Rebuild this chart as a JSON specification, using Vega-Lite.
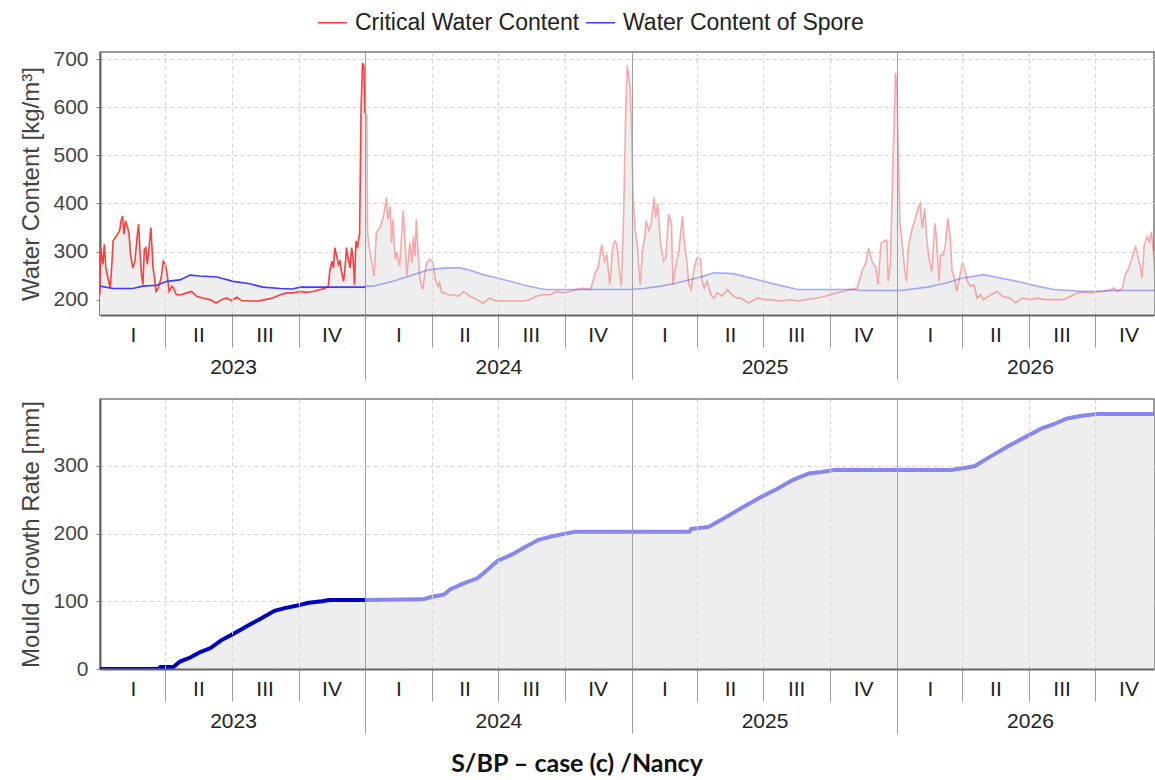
{
  "$schema": "https://vega.github.io/schema/vega-lite/v6.json",
  "background": "white",
  "padding": {"left": 19, "top": 7, "right": 0, "bottom": 2},
  "spacing": 17,
  "title": {"text": "S/BP – case (c) /Nancy", "orient": "bottom", "anchor": "middle", "font": "Lato", "fontSize": 25, "fontWeight": "bold", "color": "#111", "offset": 18, "dx": -10},
  "config": {
    "font": "Liberation Sans",
    "view": {"stroke": "#7a7a7a", "strokeWidth": 1.5},
    "axis": {"labelFont": "Liberation Sans", "titleFont": "Liberation Sans"},
    "axisY": {"tickSize": 4, "tickColor": "#888", "labelPadding": 8, "labelFontSize": 21, "labelColor": "#444", "titleFontSize": 24, "titleColor": "#444", "titleFontWeight": "normal", "titlePadding": 9, "grid": true, "gridDash": [4, 3], "gridColor": "#d6d6d6", "domainColor": "#666", "domainWidth": 2, "zindex": 1}
  },
  "vconcat": [
    {
      "width": 1054,
      "height": 263,
      "resolve": {"axis": {"x": "independent"}},
      "data": {
        "format": {"parse": {"d": "utc:'%Y-%j'"}},
        "values": [
          {"d":"2023-001","s":"crit","v":210},{"d":"2023-002","s":"crit","v":308},{"d":"2023-005","s":"crit","v":273},{"d":"2023-007","s":"crit","v":315},{"d":"2023-009","s":"crit","v":266},{"d":"2023-012","s":"crit","v":245},{"d":"2023-015","s":"crit","v":224},{"d":"2023-017","s":"crit","v":266},{"d":"2023-019","s":"crit","v":322},{"d":"2023-022","s":"crit","v":329},{"d":"2023-025","s":"crit","v":336},{"d":"2023-028","s":"crit","v":343},{"d":"2023-030","s":"crit","v":364},{"d":"2023-032","s":"crit","v":374},{"d":"2023-034","s":"crit","v":336},{"d":"2023-036","s":"crit","v":364},{"d":"2023-039","s":"crit","v":350},{"d":"2023-041","s":"crit","v":336},{"d":"2023-043","s":"crit","v":294},{"d":"2023-046","s":"crit","v":266},{"d":"2023-049","s":"crit","v":280},{"d":"2023-052","s":"crit","v":329},{"d":"2023-054","s":"crit","v":357},{"d":"2023-056","s":"crit","v":301},{"d":"2023-058","s":"crit","v":252},{"d":"2023-060","s":"crit","v":231},{"d":"2023-062","s":"crit","v":305},{"d":"2023-064","s":"crit","v":308},{"d":"2023-066","s":"crit","v":273},{"d":"2023-068","s":"crit","v":301},{"d":"2023-071","s":"crit","v":350},{"d":"2023-073","s":"crit","v":294},{"d":"2023-074","s":"crit","v":266},{"d":"2023-076","s":"crit","v":245},{"d":"2023-078","s":"crit","v":217},{"d":"2023-081","s":"crit","v":224},{"d":"2023-085","s":"crit","v":245},{"d":"2023-088","s":"crit","v":280},{"d":"2023-091","s":"crit","v":273},{"d":"2023-094","s":"crit","v":245},{"d":"2023-096","s":"crit","v":217},{"d":"2023-100","s":"crit","v":228},{"d":"2023-102","s":"crit","v":224},{"d":"2023-106","s":"crit","v":210},{"d":"2023-113","s":"crit","v":210},{"d":"2023-120","s":"crit","v":214},{"d":"2023-127","s":"crit","v":217},{"d":"2023-134","s":"crit","v":207},{"d":"2023-143","s":"crit","v":203},{"d":"2023-152","s":"crit","v":200},{"d":"2023-161","s":"crit","v":193},{"d":"2023-168","s":"crit","v":200},{"d":"2023-175","s":"crit","v":203},{"d":"2023-182","s":"crit","v":198},{"d":"2023-189","s":"crit","v":205},{"d":"2023-196","s":"crit","v":198},{"d":"2023-207","s":"crit","v":197},{"d":"2023-219","s":"crit","v":197},{"d":"2023-228","s":"crit","v":200},{"d":"2023-237","s":"crit","v":203},{"d":"2023-249","s":"crit","v":210},{"d":"2023-258","s":"crit","v":214},{"d":"2023-267","s":"crit","v":214},{"d":"2023-276","s":"crit","v":217},{"d":"2023-285","s":"crit","v":215},{"d":"2023-294","s":"crit","v":217},{"d":"2023-304","s":"crit","v":221},{"d":"2023-310","s":"crit","v":223},{"d":"2023-315","s":"crit","v":228},{"d":"2023-317","s":"crit","v":259},{"d":"2023-320","s":"crit","v":280},{"d":"2023-322","s":"crit","v":266},{"d":"2023-324","s":"crit","v":308},{"d":"2023-326","s":"crit","v":294},{"d":"2023-329","s":"crit","v":273},{"d":"2023-331","s":"crit","v":280},{"d":"2023-333","s":"crit","v":259},{"d":"2023-336","s":"crit","v":238},{"d":"2023-338","s":"crit","v":266},{"d":"2023-340","s":"crit","v":308},{"d":"2023-342","s":"crit","v":287},{"d":"2023-345","s":"crit","v":266},{"d":"2023-347","s":"crit","v":308},{"d":"2023-349","s":"crit","v":287},{"d":"2023-351","s":"crit","v":231},{"d":"2023-353","s":"crit","v":322},{"d":"2023-355","s":"crit","v":308},{"d":"2023-357","s":"crit","v":329},{"d":"2023-358","s":"crit","v":336},{"d":"2023-360","s":"crit","v":590},{"d":"2023-362","s":"crit","v":692},{"d":"2023-364","s":"crit","v":685},{"d":"2023-365","s":"crit","v":590},
          {"d":"2024-001","s":"crit","v":587},{"d":"2024-003","s":"crit","v":583},{"d":"2024-004","s":"crit","v":340},{"d":"2024-006","s":"crit","v":312},{"d":"2024-010","s":"crit","v":277},{"d":"2024-013","s":"crit","v":249},{"d":"2024-016","s":"crit","v":340},{"d":"2024-021","s":"crit","v":350},{"d":"2024-026","s":"crit","v":375},{"d":"2024-030","s":"crit","v":412},{"d":"2024-032","s":"crit","v":367},{"d":"2024-035","s":"crit","v":395},{"d":"2024-037","s":"crit","v":318},{"d":"2024-039","s":"crit","v":367},{"d":"2024-042","s":"crit","v":284},{"d":"2024-044","s":"crit","v":298},{"d":"2024-048","s":"crit","v":270},{"d":"2024-053","s":"crit","v":385},{"d":"2024-055","s":"crit","v":340},{"d":"2024-058","s":"crit","v":249},{"d":"2024-062","s":"crit","v":318},{"d":"2024-065","s":"crit","v":277},{"d":"2024-067","s":"crit","v":332},{"d":"2024-069","s":"crit","v":291},{"d":"2024-071","s":"crit","v":367},{"d":"2024-074","s":"crit","v":284},{"d":"2024-076","s":"crit","v":242},{"d":"2024-080","s":"crit","v":221},{"d":"2024-085","s":"crit","v":277},{"d":"2024-090","s":"crit","v":284},{"d":"2024-094","s":"crit","v":277},{"d":"2024-097","s":"crit","v":242},{"d":"2024-101","s":"crit","v":228},{"d":"2024-103","s":"crit","v":235},{"d":"2024-106","s":"crit","v":214},{"d":"2024-110","s":"crit","v":214},{"d":"2024-115","s":"crit","v":210},{"d":"2024-122","s":"crit","v":210},{"d":"2024-129","s":"crit","v":207},{"d":"2024-136","s":"crit","v":217},{"d":"2024-145","s":"crit","v":207},{"d":"2024-154","s":"crit","v":200},{"d":"2024-163","s":"crit","v":193},{"d":"2024-172","s":"crit","v":203},{"d":"2024-181","s":"crit","v":197},{"d":"2024-191","s":"crit","v":197},{"d":"2024-204","s":"crit","v":197},{"d":"2024-218","s":"crit","v":197},{"d":"2024-227","s":"crit","v":200},{"d":"2024-236","s":"crit","v":207},{"d":"2024-245","s":"crit","v":210},{"d":"2024-255","s":"crit","v":210},{"d":"2024-264","s":"crit","v":217},{"d":"2024-273","s":"crit","v":214},{"d":"2024-282","s":"crit","v":217},{"d":"2024-291","s":"crit","v":221},{"d":"2024-301","s":"crit","v":224},{"d":"2024-310","s":"crit","v":221},{"d":"2024-312","s":"crit","v":228},{"d":"2024-317","s":"crit","v":256},{"d":"2024-321","s":"crit","v":266},{"d":"2024-326","s":"crit","v":315},{"d":"2024-328","s":"crit","v":294},{"d":"2024-330","s":"crit","v":280},{"d":"2024-333","s":"crit","v":294},{"d":"2024-337","s":"crit","v":231},{"d":"2024-341","s":"crit","v":308},{"d":"2024-344","s":"crit","v":322},{"d":"2024-347","s":"crit","v":315},{"d":"2024-350","s":"crit","v":266},{"d":"2024-353","s":"crit","v":228},{"d":"2024-356","s":"crit","v":371},{"d":"2024-359","s":"crit","v":594},{"d":"2024-361","s":"crit","v":688},{"d":"2024-365","s":"crit","v":643},
          {"d":"2025-001","s":"crit","v":560},{"d":"2025-003","s":"crit","v":420},{"d":"2025-006","s":"crit","v":343},{"d":"2025-009","s":"crit","v":315},{"d":"2025-011","s":"crit","v":266},{"d":"2025-013","s":"crit","v":231},{"d":"2025-016","s":"crit","v":301},{"d":"2025-019","s":"crit","v":329},{"d":"2025-021","s":"crit","v":364},{"d":"2025-025","s":"crit","v":343},{"d":"2025-028","s":"crit","v":357},{"d":"2025-032","s":"crit","v":413},{"d":"2025-034","s":"crit","v":371},{"d":"2025-037","s":"crit","v":399},{"d":"2025-041","s":"crit","v":315},{"d":"2025-045","s":"crit","v":280},{"d":"2025-048","s":"crit","v":287},{"d":"2025-052","s":"crit","v":378},{"d":"2025-056","s":"crit","v":357},{"d":"2025-058","s":"crit","v":231},{"d":"2025-062","s":"crit","v":273},{"d":"2025-066","s":"crit","v":301},{"d":"2025-071","s":"crit","v":374},{"d":"2025-073","s":"crit","v":329},{"d":"2025-077","s":"crit","v":280},{"d":"2025-080","s":"crit","v":231},{"d":"2025-083","s":"crit","v":221},{"d":"2025-087","s":"crit","v":266},{"d":"2025-091","s":"crit","v":287},{"d":"2025-096","s":"crit","v":284},{"d":"2025-098","s":"crit","v":238},{"d":"2025-101","s":"crit","v":224},{"d":"2025-105","s":"crit","v":238},{"d":"2025-110","s":"crit","v":210},{"d":"2025-114","s":"crit","v":203},{"d":"2025-119","s":"crit","v":214},{"d":"2025-126","s":"crit","v":207},{"d":"2025-133","s":"crit","v":221},{"d":"2025-139","s":"crit","v":210},{"d":"2025-146","s":"crit","v":203},{"d":"2025-151","s":"crit","v":203},{"d":"2025-162","s":"crit","v":193},{"d":"2025-174","s":"crit","v":203},{"d":"2025-183","s":"crit","v":200},{"d":"2025-192","s":"crit","v":200},{"d":"2025-206","s":"crit","v":197},{"d":"2025-220","s":"crit","v":200},{"d":"2025-229","s":"crit","v":197},{"d":"2025-240","s":"crit","v":200},{"d":"2025-254","s":"crit","v":203},{"d":"2025-268","s":"crit","v":207},{"d":"2025-282","s":"crit","v":214},{"d":"2025-293","s":"crit","v":217},{"d":"2025-302","s":"crit","v":221},{"d":"2025-311","s":"crit","v":224},{"d":"2025-318","s":"crit","v":259},{"d":"2025-323","s":"crit","v":276},{"d":"2025-327","s":"crit","v":307},{"d":"2025-332","s":"crit","v":279},{"d":"2025-337","s":"crit","v":266},{"d":"2025-340","s":"crit","v":231},{"d":"2025-344","s":"crit","v":317},{"d":"2025-348","s":"crit","v":321},{"d":"2025-352","s":"crit","v":324},{"d":"2025-354","s":"crit","v":238},{"d":"2025-357","s":"crit","v":279},{"d":"2025-360","s":"crit","v":459},{"d":"2025-362","s":"crit","v":562},{"d":"2025-364","s":"crit","v":672},
          {"d":"2026-001","s":"crit","v":640},{"d":"2026-005","s":"crit","v":362},{"d":"2026-008","s":"crit","v":321},{"d":"2026-012","s":"crit","v":259},{"d":"2026-014","s":"crit","v":238},{"d":"2026-017","s":"crit","v":314},{"d":"2026-022","s":"crit","v":348},{"d":"2026-026","s":"crit","v":369},{"d":"2026-030","s":"crit","v":390},{"d":"2026-033","s":"crit","v":400},{"d":"2026-036","s":"crit","v":348},{"d":"2026-039","s":"crit","v":390},{"d":"2026-042","s":"crit","v":328},{"d":"2026-045","s":"crit","v":286},{"d":"2026-049","s":"crit","v":259},{"d":"2026-053","s":"crit","v":359},{"d":"2026-055","s":"crit","v":334},{"d":"2026-059","s":"crit","v":238},{"d":"2026-061","s":"crit","v":293},{"d":"2026-065","s":"crit","v":293},{"d":"2026-068","s":"crit","v":321},{"d":"2026-071","s":"crit","v":369},{"d":"2026-074","s":"crit","v":334},{"d":"2026-077","s":"crit","v":259},{"d":"2026-080","s":"crit","v":245},{"d":"2026-083","s":"crit","v":217},{"d":"2026-086","s":"crit","v":238},{"d":"2026-091","s":"crit","v":279},{"d":"2026-095","s":"crit","v":259},{"d":"2026-098","s":"crit","v":238},{"d":"2026-102","s":"crit","v":228},{"d":"2026-107","s":"crit","v":231},{"d":"2026-111","s":"crit","v":203},{"d":"2026-116","s":"crit","v":210},{"d":"2026-120","s":"crit","v":200},{"d":"2026-130","s":"crit","v":210},{"d":"2026-139","s":"crit","v":217},{"d":"2026-146","s":"crit","v":207},{"d":"2026-157","s":"crit","v":203},{"d":"2026-164","s":"crit","v":193},{"d":"2026-173","s":"crit","v":203},{"d":"2026-185","s":"crit","v":200},{"d":"2026-194","s":"crit","v":203},{"d":"2026-203","s":"crit","v":200},{"d":"2026-217","s":"crit","v":200},{"d":"2026-230","s":"crit","v":200},{"d":"2026-240","s":"crit","v":207},{"d":"2026-249","s":"crit","v":214},{"d":"2026-258","s":"crit","v":216},{"d":"2026-267","s":"crit","v":214},{"d":"2026-276","s":"crit","v":216},{"d":"2026-285","s":"crit","v":217},{"d":"2026-295","s":"crit","v":221},{"d":"2026-299","s":"crit","v":224},{"d":"2026-304","s":"crit","v":217},{"d":"2026-311","s":"crit","v":224},{"d":"2026-315","s":"crit","v":252},{"d":"2026-320","s":"crit","v":266},{"d":"2026-324","s":"crit","v":286},{"d":"2026-329","s":"crit","v":310},{"d":"2026-332","s":"crit","v":293},{"d":"2026-336","s":"crit","v":266},{"d":"2026-338","s":"crit","v":245},{"d":"2026-341","s":"crit","v":314},{"d":"2026-345","s":"crit","v":331},{"d":"2026-348","s":"crit","v":321},{"d":"2026-351","s":"crit","v":341},{"d":"2026-354","s":"crit","v":293},{"d":"2026-356","s":"crit","v":238},
          {"d":"2023-001","s":"spore","v":228},{"d":"2023-019","s":"spore","v":223},{"d":"2023-046","s":"spore","v":223},{"d":"2023-060","s":"spore","v":228},{"d":"2023-079","s":"spore","v":230},{"d":"2023-093","s":"spore","v":238},{"d":"2023-111","s":"spore","v":241},{"d":"2023-125","s":"spore","v":251},{"d":"2023-138","s":"spore","v":249},{"d":"2023-162","s":"spore","v":247},{"d":"2023-184","s":"spore","v":238},{"d":"2023-207","s":"spore","v":233},{"d":"2023-225","s":"spore","v":226},{"d":"2023-249","s":"spore","v":223},{"d":"2023-266","s":"spore","v":222},{"d":"2023-276","s":"spore","v":226},{"d":"2023-365","s":"spore","v":226},
          {"d":"2024-001","s":"spore","v":228},{"d":"2024-012","s":"spore","v":228},{"d":"2024-039","s":"spore","v":238},{"d":"2024-062","s":"spore","v":249},{"d":"2024-085","s":"spore","v":261},{"d":"2024-099","s":"spore","v":264},{"d":"2024-113","s":"spore","v":266},{"d":"2024-131","s":"spore","v":266},{"d":"2024-145","s":"spore","v":261},{"d":"2024-163","s":"spore","v":252},{"d":"2024-177","s":"spore","v":247},{"d":"2024-200","s":"spore","v":238},{"d":"2024-223","s":"spore","v":229},{"d":"2024-241","s":"spore","v":223},{"d":"2024-250","s":"spore","v":221},{"d":"2024-366","s":"spore","v":221},
          {"d":"2025-001","s":"spore","v":221},{"d":"2025-018","s":"spore","v":223},{"d":"2025-041","s":"spore","v":228},{"d":"2025-059","s":"spore","v":233},{"d":"2025-082","s":"spore","v":242},{"d":"2025-096","s":"spore","v":247},{"d":"2025-114","s":"spore","v":256},{"d":"2025-141","s":"spore","v":254},{"d":"2025-165","s":"spore","v":245},{"d":"2025-188","s":"spore","v":236},{"d":"2025-210","s":"spore","v":228},{"d":"2025-229","s":"spore","v":221},{"d":"2025-302","s":"spore","v":221},{"d":"2025-320","s":"spore","v":219},{"d":"2025-365","s":"spore","v":219},
          {"d":"2026-001","s":"spore","v":219},{"d":"2026-006","s":"spore","v":219},{"d":"2026-043","s":"spore","v":226},{"d":"2026-070","s":"spore","v":235},{"d":"2026-088","s":"spore","v":244},{"d":"2026-120","s":"spore","v":252},{"d":"2026-143","s":"spore","v":245},{"d":"2026-166","s":"spore","v":238},{"d":"2026-194","s":"spore","v":228},{"d":"2026-217","s":"spore","v":221},{"d":"2026-240","s":"spore","v":219},{"d":"2026-258","s":"spore","v":217},{"d":"2026-304","s":"spore","v":219},{"d":"2026-356","s":"spore","v":219}
        ]
      },
      "layer": [
        {
          "mark": {"type": "area", "color": "#eeeeee", "clip": true},
          "encoding": {
            "x": {"field": "d", "type": "temporal",
              "scale": {"type": "utc", "domain": [{"year": 2023, "month": 1, "date": 1, "utc": true}, {"year": 2026, "month": 12, "date": 20, "hours": 12, "utc": true}]},
              "axis": {
                "orient": "bottom", "title": null, "zindex": 1,
                "values": [{"year":2023,"month":1,"date":1,"utc":true},{"year":2023,"month":4,"date":1,"utc":true},{"year":2023,"month":7,"date":1,"utc":true},{"year":2023,"month":10,"date":1,"utc":true},{"year":2024,"month":1,"date":1,"utc":true},{"year":2024,"month":4,"date":1,"utc":true},{"year":2024,"month":7,"date":1,"utc":true},{"year":2024,"month":10,"date":1,"utc":true},{"year":2025,"month":1,"date":1,"utc":true},{"year":2025,"month":4,"date":1,"utc":true},{"year":2025,"month":7,"date":1,"utc":true},{"year":2025,"month":10,"date":1,"utc":true},{"year":2026,"month":1,"date":1,"utc":true},{"year":2026,"month":4,"date":1,"utc":true},{"year":2026,"month":7,"date":1,"utc":true},{"year":2026,"month":10,"date":1,"utc":true}],
                "labelExpr": "utcmonth(datum.value) < 3 ? 'I' : (utcmonth(datum.value) < 6 ? 'II' : (utcmonth(datum.value) < 9 ? 'III' : 'IV'))",
                "labelAngle": 0, "labelAlign": "center", "labelBaseline": "middle", "labelOffset": 33, "labelPadding": -12,
                "labelFontSize": 21, "labelColor": "#222", "labelOverlap": false, "labelBound": false, "labelFlush": false,
                "tickSize": 32,
                "tickOpacity": {"condition": {"test": "datum.value <= utc(2023,0,1)", "value": 0}, "value": 1},
                "tickColor": "#999", "tickWidth": 1,
                "grid": true,
                "gridOpacity": {"condition": {"test": "datum.value <= utc(2023,0,1)", "value": 0}, "value": 1},
                "gridColor": {"condition": {"test": "utcmonth(datum.value) == 0", "value": "#a0a0a0"}, "value": "#d6d6d6"},
                "gridDash": {"condition": {"test": "utcmonth(datum.value) == 0", "value": []}, "value": [4, 3]},
                "domainColor": "#666", "domainWidth": 2
              }
            },
            "y": {"field": "v", "type": "quantitative", "stack": null,
              "scale": {"domain": [168, 715], "zero": false, "nice": false},
              "axis": {"title": "Water Content [kg/m³]", "values": [200, 300, 400, 500, 600, 700]}
            },
            "detail": {"field": "s"}
          }
        },
        {
          "transform": [{"filter": {"field": "d", "lte": {"year": 2024, "month": 1, "date": 1, "utc": true}}}],
          "mark": {"type": "line", "strokeWidth": 1.6, "clip": true},
          "encoding": {
            "x": {"field": "d", "type": "temporal",
              "axis": {
                "orient": "bottom", "title": null, "zindex": 1, "domain": false, "grid": false,
                "values": [{"year":2023,"month":1,"date":1,"utc":true},{"year":2024,"month":1,"date":1,"utc":true},{"year":2025,"month":1,"date":1,"utc":true},{"year":2026,"month":1,"date":1,"utc":true}],
                "labelExpr": "'' + utcyear(datum.value)",
                "labelAngle": 0, "labelAlign": "center", "labelBaseline": "middle", "labelOffset": 133, "labelPadding": -12,
                "labelFontSize": 21, "labelColor": "#222", "labelOverlap": false, "labelBound": false, "labelFlush": false,
                "tickSize": 64,
                "tickOpacity": {"condition": {"test": "datum.value <= utc(2023,0,1)", "value": 0}, "value": 1},
                "tickColor": "#999", "tickWidth": 1
              }
            },
            "y": {"field": "v", "type": "quantitative"},
            "color": {"field": "s", "type": "nominal",
              "scale": {"domain": ["crit", "spore"], "range": ["#ff3d3d", "#3d3dff"]},
              "legend": {"orient": "none", "legendX": 217, "legendY": -45, "direction": "horizontal", "title": null,
                "symbolType": "stroke", "symbolSize": 841, "symbolStrokeWidth": 1.5, "symbolOpacity": 1, "labelLimit": 400,
                "labelFont": "Liberation Sans", "labelFontSize": 23, "labelColor": "#222", "labelOffset": 7, "columnPadding": 3,
                "labelExpr": "datum.label == 'crit' ? 'Critical Water Content' : 'Water Content of Spore'",
                "encode": {"symbols": {"update": {"opacity": {"value": 1}, "strokeOpacity": {"value": 1}}}}}
            }
          }
        },
        {
          "transform": [{"filter": {"field": "d", "gte": {"year": 2024, "month": 1, "date": 1, "utc": true}}}],
          "mark": {"type": "line", "strokeWidth": 1.6, "opacity": 0.42, "clip": true},
          "encoding": {
            "x": {"field": "d", "type": "temporal", "axis": null},
            "y": {"field": "v", "type": "quantitative"},
            "color": {"field": "s", "type": "nominal"}
          }
        }
      ]
    },
    {
      "width": 1054,
      "height": 270,
      "resolve": {"axis": {"x": "independent"}},
      "data": {
        "format": {"parse": {"d": "utc:'%Y-%j'"}},
        "values": [
          {"d":"2023-001","v":0},{"d":"2023-081","v":0},{"d":"2023-084","v":3},{"d":"2023-102","v":3},{"d":"2023-111","v":11},{"d":"2023-125","v":17},{"d":"2023-139","v":25},{"d":"2023-153","v":31},{"d":"2023-167","v":42},{"d":"2023-186","v":53},{"d":"2023-204","v":64},{"d":"2023-223","v":75},{"d":"2023-241","v":86},{"d":"2023-255","v":90},{"d":"2023-269","v":93},{"d":"2023-288","v":98},{"d":"2023-306","v":100},{"d":"2023-316","v":102},{"d":"2023-365","v":102},
          {"d":"2024-001","v":102},{"d":"2024-081","v":103},{"d":"2024-090","v":106},{"d":"2024-109","v":110},{"d":"2024-118","v":118},{"d":"2024-137","v":127},{"d":"2024-155","v":134},{"d":"2024-165","v":143},{"d":"2024-183","v":160},{"d":"2024-202","v":169},{"d":"2024-220","v":180},{"d":"2024-239","v":191},{"d":"2024-257","v":196},{"d":"2024-276","v":200},{"d":"2024-290","v":203},{"d":"2024-366","v":203},
          {"d":"2025-001","v":203},{"d":"2025-081","v":203},{"d":"2025-083","v":207},{"d":"2025-107","v":210},{"d":"2025-130","v":224},{"d":"2025-154","v":239},{"d":"2025-177","v":253},{"d":"2025-201","v":266},{"d":"2025-224","v":280},{"d":"2025-245","v":289},{"d":"2025-262","v":291},{"d":"2025-280","v":294},{"d":"2025-365","v":294},
          {"d":"2026-001","v":294},{"d":"2026-075","v":294},{"d":"2026-094","v":297},{"d":"2026-108","v":300},{"d":"2026-131","v":315},{"d":"2026-155","v":330},{"d":"2026-178","v":343},{"d":"2026-201","v":356},{"d":"2026-215","v":361},{"d":"2026-234","v":370},{"d":"2026-253","v":374},{"d":"2026-277","v":377},{"d":"2026-356","v":377}
        ]
      },
      "layer": [
        {
          "mark": {"type": "area", "color": "#eeeeee", "clip": true},
          "encoding": {
            "x": {"field": "d", "type": "temporal",
              "scale": {"type": "utc", "domain": [{"year": 2023, "month": 1, "date": 1, "utc": true}, {"year": 2026, "month": 12, "date": 20, "hours": 12, "utc": true}]},
              "axis": {
                "orient": "bottom", "title": null, "zindex": 1,
                "values": [{"year":2023,"month":1,"date":1,"utc":true},{"year":2023,"month":4,"date":1,"utc":true},{"year":2023,"month":7,"date":1,"utc":true},{"year":2023,"month":10,"date":1,"utc":true},{"year":2024,"month":1,"date":1,"utc":true},{"year":2024,"month":4,"date":1,"utc":true},{"year":2024,"month":7,"date":1,"utc":true},{"year":2024,"month":10,"date":1,"utc":true},{"year":2025,"month":1,"date":1,"utc":true},{"year":2025,"month":4,"date":1,"utc":true},{"year":2025,"month":7,"date":1,"utc":true},{"year":2025,"month":10,"date":1,"utc":true},{"year":2026,"month":1,"date":1,"utc":true},{"year":2026,"month":4,"date":1,"utc":true},{"year":2026,"month":7,"date":1,"utc":true},{"year":2026,"month":10,"date":1,"utc":true}],
                "labelExpr": "utcmonth(datum.value) < 3 ? 'I' : (utcmonth(datum.value) < 6 ? 'II' : (utcmonth(datum.value) < 9 ? 'III' : 'IV'))",
                "labelAngle": 0, "labelAlign": "center", "labelBaseline": "middle", "labelOffset": 33, "labelPadding": -12,
                "labelFontSize": 21, "labelColor": "#222", "labelOverlap": false, "labelBound": false, "labelFlush": false,
                "tickSize": 32,
                "tickOpacity": {"condition": {"test": "datum.value <= utc(2023,0,1)", "value": 0}, "value": 1},
                "tickColor": "#999", "tickWidth": 1,
                "grid": true,
                "gridOpacity": {"condition": {"test": "datum.value <= utc(2023,0,1)", "value": 0}, "value": 1},
                "gridColor": {"condition": {"test": "utcmonth(datum.value) == 0", "value": "#a0a0a0"}, "value": "#d6d6d6"},
                "gridDash": {"condition": {"test": "utcmonth(datum.value) == 0", "value": []}, "value": [4, 3]},
                "domainColor": "#666", "domainWidth": 2
              }
            },
            "y": {"field": "v", "type": "quantitative",
              "scale": {"domain": [0, 399], "nice": false},
              "axis": {"title": "Mould Growth Rate [mm]", "values": [0, 100, 200, 300]}
            }
          }
        },
        {
          "transform": [{"filter": {"field": "d", "lte": {"year": 2024, "month": 1, "date": 1, "utc": true}}}],
          "mark": {"type": "line", "strokeWidth": 4, "color": "#0000c4", "clip": true},
          "encoding": {
            "x": {"field": "d", "type": "temporal",
              "axis": {
                "orient": "bottom", "title": null, "zindex": 1, "domain": false, "grid": false,
                "values": [{"year":2023,"month":1,"date":1,"utc":true},{"year":2024,"month":1,"date":1,"utc":true},{"year":2025,"month":1,"date":1,"utc":true},{"year":2026,"month":1,"date":1,"utc":true}],
                "labelExpr": "'' + utcyear(datum.value)",
                "labelAngle": 0, "labelAlign": "center", "labelBaseline": "middle", "labelOffset": 133, "labelPadding": -12,
                "labelFontSize": 21, "labelColor": "#222", "labelOverlap": false, "labelBound": false, "labelFlush": false,
                "tickSize": 64,
                "tickOpacity": {"condition": {"test": "datum.value <= utc(2023,0,1)", "value": 0}, "value": 1},
                "tickColor": "#999", "tickWidth": 1
              }
            },
            "y": {"field": "v", "type": "quantitative"}
          }
        },
        {
          "transform": [{"filter": {"field": "d", "gte": {"year": 2024, "month": 1, "date": 1, "utc": true}}}],
          "mark": {"type": "line", "strokeWidth": 4, "color": "#8787ee", "clip": true},
          "encoding": {
            "x": {"field": "d", "type": "temporal", "axis": null},
            "y": {"field": "v", "type": "quantitative"}
          }
        }
      ]
    }
  ]
}
